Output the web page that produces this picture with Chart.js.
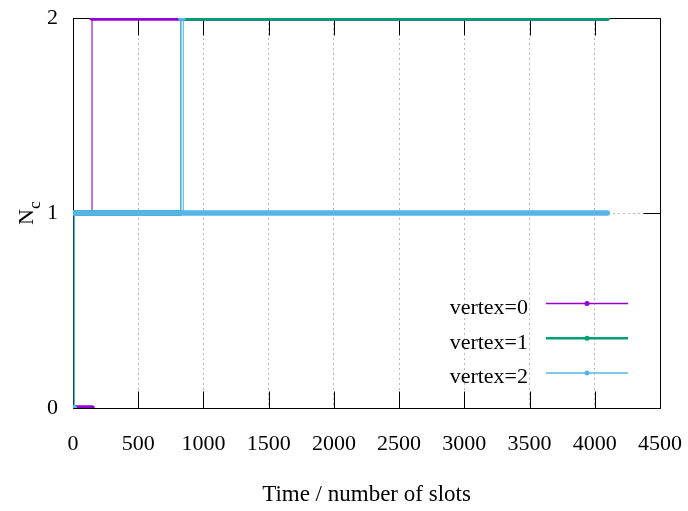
<!DOCTYPE html>
<html>
<head>
<meta charset="utf-8">
<title>N_c per vertex</title>
<script src="https://cdn.jsdelivr.net/npm/chart.js@4.4.1/dist/chart.umd.min.js"></script>
<style>
    html, body { margin: 0; padding: 0; background: #fff; }
    #wrap { width: 688px; height: 511px; position: relative; }
</style>
</head>
<body>
<div id="wrap"><canvas id="ncChart"></canvas></div>
<script>
// Step points per vertex: slot index and N_c (null breaks the line)
const vertexNames = ['vertex=0', 'vertex=1', 'vertex=2'];
const v0Slots = [0, 146, 146, 146, 146, 4096];
const v0Nc    = [0, 0, null, 1, 2, 2];
const v1Slots = [0, 10, 10, 826, 826, 4096];
const v1Nc    = [0, 0, 1, 1, 2, 2];
const v2Slots = [0, 10, 10, 826, 826, 845, 845, 4096];
const v2Nc    = [0, 0, 1, 1, 2, 2, 1, 1];
const xTicks = [0, 500, 1000, 1500, 2000, 2500, 3000, 3500, 4000, 4500];
const yTicks = [0, 1, 2];

const colors = ['#9400d3', '#009e73', '#56b4e9'];
const legendWidths = [1.5, 2.5, 1.5];
const FONT = '"Liberation Serif", "DejaVu Serif", serif';

document.addEventListener('DOMContentLoaded', () => {
    const toPoints = (xs, ys) => xs.map((x, i) => ({ x: x, y: ys[i] }));
    const series = [toPoints(v0Slots, v0Nc), toPoints(v1Slots, v1Nc), toPoints(v2Slots, v2Nc)];

    // gnuplot style border with inward tics
    const framePlugin = {
        id: 'frame',
        beforeDatasetsDraw(chart) {
            const { ctx, chartArea: a, scales: { x, y } } = chart;
            const L = Math.round(a.left) + 0.5, R = Math.round(a.right) + 0.5;
            const T = Math.round(a.top) + 0.5, B = Math.round(a.bottom) + 0.5;
            const tic = 17;
            ctx.save();
            ctx.strokeStyle = '#000';
            ctx.lineWidth = 1;
            ctx.beginPath();
            ctx.rect(L, T, R - L, B - T);
            xTicks.forEach(v => {
                const px = Math.round(x.getPixelForValue(v)) + 0.5;
                ctx.moveTo(px, B); ctx.lineTo(px, B - tic);
                ctx.moveTo(px, T); ctx.lineTo(px, T + tic);
            });
            yTicks.forEach(v => {
                const py = Math.round(y.getPixelForValue(v)) + 0.5;
                ctx.moveTo(L, py); ctx.lineTo(L + tic, py);
                ctx.moveTo(R, py); ctx.lineTo(R - tic, py);
            });
            ctx.stroke();
            ctx.restore();
        },
        afterDraw(chart) {
            const ctx = chart.ctx;
            ctx.save();
            ctx.fillStyle = '#000';

            // y axis label N with subscript c
            ctx.translate(33, 225);
            ctx.rotate(-Math.PI / 2);
            ctx.font = '22px ' + FONT;
            ctx.textBaseline = 'alphabetic';
            ctx.textAlign = 'left';
            ctx.fillText('N', 0, 0);
            const nw = ctx.measureText('N').width;
            ctx.font = '17.6px ' + FONT;
            ctx.fillText('c', nw, 7);
            ctx.setTransform(1, 0, 0, 1, 0, 0);

            // key in the lower right corner
            ctx.font = '22px ' + FONT;
            ctx.textAlign = 'right';
            chart.data.datasets.forEach((ds, i) => {
                const ly = 303.5 + i * 34.7;
                ctx.fillStyle = '#000';
                ctx.fillText(ds.label, 528, ly + 10.5);
                ctx.strokeStyle = ds.borderColor;
                ctx.lineWidth = legendWidths[i];
                ctx.beginPath();
                ctx.moveTo(546, ly);
                ctx.lineTo(628, ly);
                ctx.stroke();
                ctx.fillStyle = ds.borderColor;
                ctx.beginPath();
                ctx.arc(587, ly, 2.5, 0, Math.PI * 2);
                ctx.fill();
            });
            ctx.restore();
        }
    };

    const ctx = document.getElementById('ncChart').getContext('2d');
    new Chart(ctx, {
        type: 'line',
        data: {
            datasets: series.map((pts, i) => ({
                label: vertexNames[i],
                data: pts,
                borderColor: colors[i],
                backgroundColor: colors[i],
                pointRadius: 0,
                fill: false,
                spanGaps: false,
                borderCapStyle: 'round',
                borderJoinStyle: 'round',
                // dense sample runs show as a thick band, jumps as thin lines
                segment: {
                    borderWidth: c => c.p0.parsed.x === c.p1.parsed.x ? 1.1 : 5.5
                },
                order: 2 - i
            }))
        },
        options: {
            responsive: true,
            maintainAspectRatio: false,
            animation: false,
            layout: { padding: { top: 18, right: 28, left: 0, bottom: 0 } },
            scales: {
                x: {
                    type: 'linear',
                    min: 0,
                    max: 4500,
                    afterBuildTicks: s => { s.ticks = xTicks.map(v => ({ value: v })); },
                    afterFit: s => {
                        s.height = 103;
                        s.paddingLeft = 0;
                        s.paddingRight = 0;
                    },
                    ticks: {
                        color: '#000',
                        font: { family: FONT, size: 22 },
                        padding: 23,
                        maxRotation: 0,
                        autoSkip: false,
                        callback: v => String(v)
                    },
                    grid: {
                        drawTicks: false,
                        color: c => (c.tick && (c.tick.value === 0 || c.tick.value === 4500)) ? 'rgba(0,0,0,0)' : '#b8b8b8',
                        lineWidth: 1
                    },
                    border: { display: false, dash: [2, 3] },
                    title: {
                        display: true,
                        text: 'Time / number of slots',
                        color: '#000',
                        font: { family: FONT, size: 23 },
                        padding: { top: 0, bottom: 2 }
                    }
                },
                y: {
                    type: 'linear',
                    min: 0,
                    max: 2,
                    afterBuildTicks: s => { s.ticks = yTicks.map(v => ({ value: v })); },
                    afterFit: s => {
                        s.width = 73;
                        s.paddingTop = 0;
                        s.paddingBottom = 0;
                    },
                    ticks: {
                        color: '#000',
                        font: { family: FONT, size: 22 },
                        padding: 15,
                        callback: v => String(v)
                    },
                    grid: {
                        drawTicks: false,
                        color: c => (c.tick && (c.tick.value === 0 || c.tick.value === 2)) ? 'rgba(0,0,0,0)' : '#b8b8b8',
                        lineWidth: 1
                    },
                    border: { display: false, dash: [2, 3] }
                }
            },
            plugins: {
                legend: { display: false },
                tooltip: { enabled: false }
            }
        },
        plugins: [framePlugin]
    });
});
</script>
</body>
</html>
